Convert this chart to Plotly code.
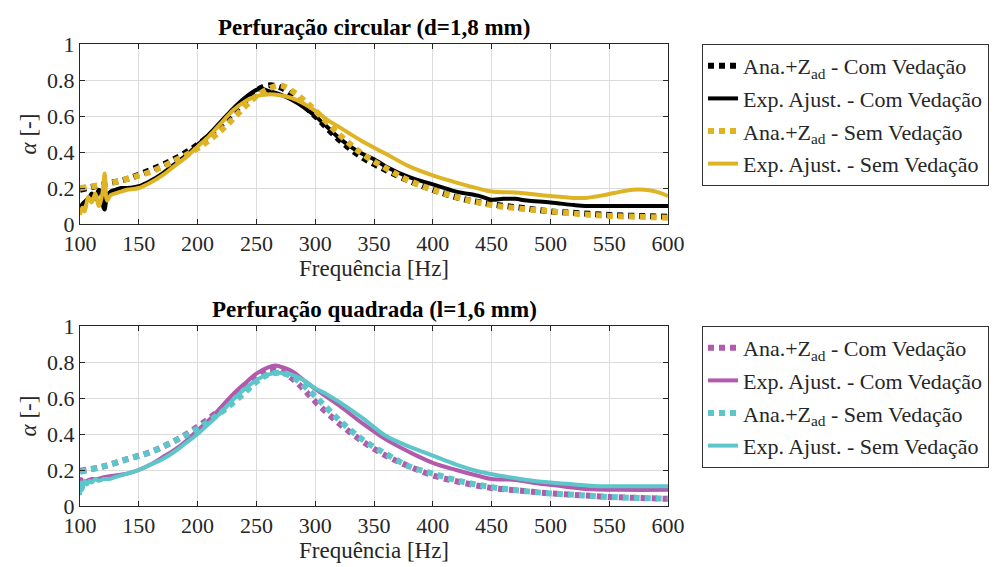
import plotly.graph_objects as go

# ---------------- data: circular perforation (top) ----------------
f_ana_c = [100,120,140,160,180,200,220,240,250,260,270,280,290,300,320,340,360,380,400,425,450,475,500,525,550,575,600]
ana_com_c = [0.19,0.22,0.25,0.30,0.36,0.44,0.55,0.68,0.74,0.77,0.76,0.72,0.66,0.60,0.47,0.37,0.30,0.24,0.19,0.14,0.11,0.09,0.07,0.06,0.05,0.045,0.04]
ana_sem_c = [0.20,0.22,0.25,0.29,0.35,0.42,0.52,0.65,0.71,0.75,0.77,0.74,0.69,0.63,0.50,0.39,0.31,0.24,0.19,0.14,0.105,0.085,0.07,0.055,0.045,0.04,0.035]

f_exp_com_c = [100,102,105,108,110,113,116,118,120,121,123,126,130,135,140,150,160,170,180,190,200,210,220,230,240,250,255,260,270,280,290,300,310,320,330,340,350,360,380,400,420,440,450,460,470,480,500,520,530,550,575,600]
exp_com_c = [0.08,0.11,0.13,0.15,0.17,0.14,0.19,0.17,0.09,0.08,0.16,0.18,0.19,0.20,0.20,0.21,0.24,0.28,0.33,0.38,0.44,0.50,0.57,0.64,0.70,0.745,0.75,0.74,0.72,0.69,0.65,0.60,0.54,0.48,0.43,0.39,0.36,0.32,0.26,0.22,0.18,0.155,0.135,0.14,0.14,0.13,0.12,0.105,0.10,0.10,0.10,0.10]

f_exp_sem_c = [100,102,104,107,110,113,116,119,121,123,126,130,135,140,150,160,170,180,190,200,210,220,230,240,250,260,270,280,290,300,310,320,340,360,380,400,420,440,450,470,500,520,530,545,560,570,580,590,600]
exp_sem_c = [0.05,0.09,0.07,0.15,0.12,0.17,0.10,0.17,0.28,0.13,0.16,0.17,0.18,0.19,0.20,0.23,0.27,0.32,0.37,0.43,0.49,0.56,0.63,0.68,0.71,0.72,0.715,0.70,0.67,0.63,0.58,0.54,0.46,0.39,0.32,0.27,0.23,0.195,0.18,0.175,0.155,0.145,0.145,0.16,0.18,0.19,0.19,0.18,0.155]

# ---------------- data: square perforation (bottom) ----------------
f_ana_q = [100,120,140,160,180,200,220,240,250,260,270,280,290,300,320,340,360,380,400,425,450,475,500,525,550,575,600]
ana_com_q = [0.195,0.22,0.26,0.30,0.36,0.44,0.54,0.66,0.72,0.76,0.75,0.71,0.65,0.58,0.46,0.36,0.28,0.22,0.17,0.13,0.10,0.085,0.07,0.06,0.05,0.045,0.04]
ana_sem_q = [0.19,0.22,0.26,0.30,0.36,0.43,0.52,0.63,0.69,0.73,0.74,0.72,0.67,0.61,0.48,0.37,0.29,0.22,0.18,0.135,0.105,0.085,0.07,0.06,0.05,0.045,0.04]

f_exp_com_q = [100,101,103,106,110,115,120,130,140,150,160,170,180,190,200,210,220,230,240,250,260,266,270,280,290,300,320,340,360,380,400,420,440,450,470,490,510,530,560,600]
exp_com_q = [0.12,0.15,0.13,0.14,0.15,0.15,0.16,0.17,0.18,0.20,0.23,0.27,0.31,0.36,0.42,0.48,0.55,0.62,0.68,0.735,0.77,0.78,0.775,0.75,0.70,0.65,0.56,0.46,0.37,0.30,0.24,0.20,0.165,0.15,0.145,0.125,0.11,0.095,0.09,0.09]

f_exp_sem_q = [100,101,102,104,106,108,110,113,116,120,125,130,140,150,160,170,180,190,200,210,220,230,240,250,260,268,275,280,290,300,310,320,340,360,380,400,420,440,460,480,500,520,540,570,600]
exp_sem_q = [0.06,0.13,0.09,0.14,0.12,0.14,0.13,0.15,0.14,0.15,0.15,0.16,0.18,0.20,0.23,0.26,0.30,0.35,0.40,0.46,0.52,0.59,0.65,0.70,0.73,0.74,0.735,0.73,0.70,0.655,0.62,0.58,0.49,0.39,0.33,0.28,0.23,0.19,0.165,0.145,0.13,0.12,0.11,0.11,0.11]

x_ticks = [100,150,200,250,300,350,400,450,500,550,600]
y_ticks = [0,0.2,0.4,0.6,0.8,1]
y_tick_text = ["0","0.2","0.4","0.6","0.8","1"]

names = ["Ana.+Z<sub>ad</sub> - Com Vedação", "Exp. Ajust. - Com Vedação",
         "Ana.+Z<sub>ad</sub> - Sem Vedação", "Exp. Ajust. - Sem Vedação"]

BLACK = "#000000"
YELLOW = "#DFB424"
MAGENTA = "#B25BAC"
CYAN = "#5CC6CA"

DOT = "6px,5px"
W_DOT = 6
W_SOLID = 4

fig = go.Figure()

def add(x, y, name, color, dotted, xa, ya, legend, grp):
    fig.add_trace(go.Scatter(
        x=x, y=y, name=name, mode="lines", line_shape="spline", showlegend=True,
        line=dict(color=color, width=W_DOT if dotted else W_SOLID, dash=DOT if dotted else "solid"),
        xaxis=xa, yaxis=ya, legend=legend, legendgroup=grp))

add(f_ana_c, ana_com_c, names[0], BLACK, True, "x", "y", "legend", "a1")
add(f_exp_com_c, exp_com_c, names[1], BLACK, False, "x", "y", "legend", "a2")
add(f_ana_c, ana_sem_c, names[2], YELLOW, True, "x", "y", "legend", "a3")
add(f_exp_sem_c, exp_sem_c, names[3], YELLOW, False, "x", "y", "legend", "a4")

add(f_ana_q, ana_com_q, names[0], MAGENTA, True, "x2", "y2", "legend2", "b1")
add(f_exp_com_q, exp_com_q, names[1], MAGENTA, False, "x2", "y2", "legend2", "b2")
add(f_ana_q, ana_sem_q, names[2], CYAN, True, "x2", "y2", "legend2", "b3")
add(f_exp_sem_q, exp_sem_q, names[3], CYAN, False, "x2", "y2", "legend2", "b4")

SERIF = "Liberation Serif"
W, H, OFF = 997, 559, 8   # page body offset of 8 px


def px(X):
    return (X - OFF) / W


def py(Y):
    return 1 - (Y - OFF) / H


XD = [px(80), px(668)]
YD_TOP = [py(224), py(44)]
YD_BOT = [py(506), py(326)]

def xaxis(anchor, domain):
    return dict(domain=domain, anchor=anchor, range=[100, 600], tickvals=x_ticks, automargin=False,
                showline=True, linecolor="#262626", linewidth=1, mirror="allticks",
                ticks="inside", ticklen=5, tickcolor="#262626",
                showgrid=True, gridcolor="#DCDCDC", gridwidth=1, zeroline=False,
                tickfont=dict(family=SERIF, size=22),
                title=dict(text="Frequência [Hz]", font=dict(family=SERIF, size=23), standoff=4))

def yaxis(anchor, domain):
    return dict(domain=domain, anchor=anchor, range=[0, 1], tickvals=y_ticks, ticktext=y_tick_text, automargin=False,
                showline=True, linecolor="#262626", linewidth=1, mirror="allticks",
                ticks="inside", ticklen=5, tickcolor="#262626",
                showgrid=True, gridcolor="#DCDCDC", gridwidth=1, zeroline=False,
                tickfont=dict(family=SERIF, size=22),
                title=dict(text="<i>α</i> [-]", font=dict(family=SERIF, size=23), standoff=4))

legend_common = dict(xanchor="left", yanchor="top", bgcolor="white", bordercolor="#333333",
                     borderwidth=1, font=dict(family=SERIF, size=22),
                     tracegroupgap=1, itemwidth=30)

fig.update_layout(
    width=W, height=H, margin=dict(l=0, r=0, t=0, b=0, autoexpand=False),
    font=dict(family=SERIF, color="#262626"),
    paper_bgcolor="white", plot_bgcolor="white",
    xaxis=xaxis("y", XD), yaxis=yaxis("x", YD_TOP),
    xaxis2=xaxis("y2", XD), yaxis2=yaxis("x2", YD_BOT),
    legend=dict(x=px(702), y=py(44), **legend_common),
    legend2=dict(x=px(702), y=py(326), **legend_common),
    annotations=[
        dict(text="<b>Perfuração circular (d=1,8 mm)</b>", x=(XD[0]+XD[1])/2, y=py(27),
             xref="paper", yref="paper", showarrow=False, yanchor="middle",
             font=dict(family=SERIF, size=23, color="black")),
        dict(text="<b>Perfuração quadrada (l=1,6 mm)</b>", x=(XD[0]+XD[1])/2, y=py(309),
             xref="paper", yref="paper", showarrow=False, yanchor="middle",
             font=dict(family=SERIF, size=23, color="black")),
    ],
    showlegend=True,
)

fig.write_html("out.html")
